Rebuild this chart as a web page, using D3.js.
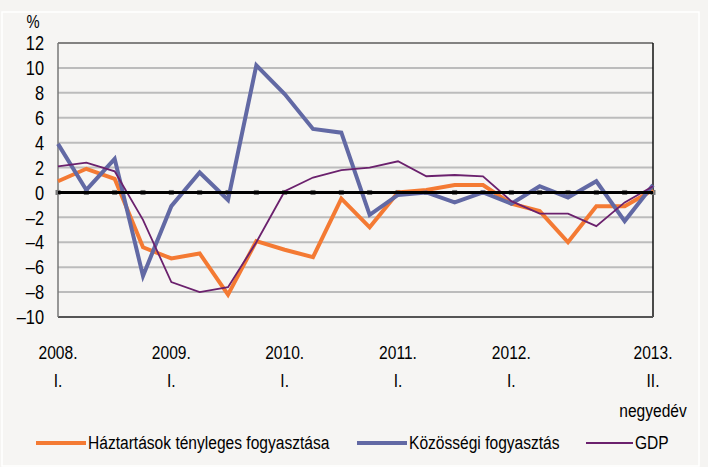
<!DOCTYPE html>
<html>
<head>
<meta charset="utf-8">
<script src="https://cdn.jsdelivr.net/npm/d3@7"></script>
<style>
  body { margin: 0; background: #f5f4f2; }
  svg text { font-family: "Liberation Sans", Arial, sans-serif; fill: #000; }
</style>
</head>
<body>
<div class="chart"></div>
<script>
// quarters 2008 Q1 .. 2013 Q2
const quarters = ["2008Q1","2008Q2","2008Q3","2008Q4","2009Q1","2009Q2","2009Q3","2009Q4",
  "2010Q1","2010Q2","2010Q3","2010Q4","2011Q1","2011Q2","2011Q3","2011Q4",
  "2012Q1","2012Q2","2012Q3","2012Q4","2013Q1","2013Q2"];
const haztartasok = [0.9,1.9,1.1,-4.4,-5.3,-4.9,-8.2,-3.9,-4.6,-5.2,-0.5,-2.8,0.0,0.2,0.6,0.6,-0.9,-1.5,-4.0,-1.1,-1.1,0.2];
const kozossegi = [3.9,0.2,2.7,-6.7,-1.1,1.6,-0.6,10.2,7.9,5.1,4.8,-1.8,-0.2,0.0,-0.8,0.0,-0.9,0.5,-0.4,0.9,-2.3,0.6];
const gdp = [2.1,2.4,1.7,-2.2,-7.2,-8.0,-7.6,-4.0,0.1,1.2,1.8,2.0,2.5,1.3,1.4,1.3,-0.7,-1.7,-1.7,-2.7,-0.8,0.5];
const yTicks = [12,10,8,6,4,2,0,-2,-4,-6,-8,-10];
const xLabels = [
  {q:"2008Q1", year:"2008.", part:"I."},
  {q:"2009Q1", year:"2009.", part:"I."},
  {q:"2010Q1", year:"2010.", part:"I."},
  {q:"2011Q1", year:"2011.", part:"I."},
  {q:"2012Q1", year:"2012.", part:"I."},
  {q:"2013Q2", year:"2013.", part:"II."}
];
const series = [
  {name:"Háztartások tényleges fogyasztása", values:haztartasok, color:"#f47a33", width:4},
  {name:"Közösségi fogyasztás", values:kozossegi, color:"#6269a4", width:4},
  {name:"GDP", values:gdp, color:"#6b216d", width:1.8}
];

const W = 708, H = 467;
const svg = d3.select(".chart").append("svg").attr("width", W).attr("height", H);

// narrow text: Liberation Sans squeezed horizontally like Arial Narrow
function label(parent, px, py, str, anchor, size) {
  return parent.append("text")
    .attr("transform", "translate(" + px + "," + py + ") scale(0.82,1)")
    .attr("text-anchor", anchor).attr("dy", "0.36em")
    .style("font-size", size + "px").text(str);
}

svg.append("rect").attr("x",2).attr("y",12).attr("width",697).attr("height",454)
  .attr("fill","#f6f5f3").attr("stroke","#ffffff").attr("stroke-width",1.5);

const x = d3.scalePoint().domain(quarters).range([58, 653]);
const y = d3.scaleLinear().domain([-10, 12]).range([317, 43]);

// grid
svg.append("g").selectAll("line").data(yTicks.filter(d => d !== 0 && d !== 12 && d !== -10)).enter()
  .append("line")
  .attr("x1",58).attr("x2",653).attr("y1",d=>y(d)).attr("y2",d=>y(d))
  .attr("stroke","#bcbcbc").attr("stroke-width",2);

// frame
svg.append("line").attr("x1",58).attr("x2",653).attr("y1",y(12)).attr("y2",y(12)).attr("stroke","#111").attr("stroke-width",1.2);
svg.append("line").attr("x1",653).attr("x2",653).attr("y1",y(12)).attr("y2",y(-10)).attr("stroke","#111").attr("stroke-width",1.5);
svg.append("line").attr("x1",58).attr("x2",653).attr("y1",y(-10)).attr("y2",y(-10)).attr("stroke","#555").attr("stroke-width",2);
svg.append("line").attr("x1",58).attr("x2",58).attr("y1",y(12)).attr("y2",y(-10)).attr("stroke","#777").attr("stroke-width",1.5);

// y labels
yTicks.forEach(d => label(svg, 44, y(d), d < 0 ? "\u2013" + Math.abs(d) : String(d), "end", 20));
label(svg, 33, 22, "%", "middle", 18);

// tick marks on the zero axis (behind it)
svg.append("g").selectAll("line").data(quarters).enter().append("line")
  .attr("x1",d=>x(d)-2.5).attr("x2",d=>x(d)+2.5).attr("y1",y(0)).attr("y2",y(0))
  .attr("stroke","#777").attr("stroke-width",5);

// lines
const line = d3.line().x((d,i)=>x(quarters[i])).y(d=>y(d));
svg.append("g").selectAll("path").data(series).enter().append("path")
  .attr("d", d=>line(d.values))
  .attr("fill","none").attr("stroke",d=>d.color).attr("stroke-width",d=>d.width)
  .attr("stroke-linejoin","miter");

// zero axis
svg.append("line").attr("x1",58).attr("x2",653).attr("y1",y(0)).attr("y2",y(0)).attr("stroke","#000").attr("stroke-width",3);

// x labels
xLabels.forEach(d => {
  label(svg, x(d.q), 352, d.year, "middle", 19);
  label(svg, x(d.q), 380, d.part, "middle", 19);
});
label(svg, x("2013Q2"), 410, "negyedév", "middle", 19);

// legend
const legendPos = [36, 357, 586];
const legendLen = [50, 50, 47];
series.forEach((d,i) => {
  svg.append("line").attr("x1",legendPos[i]).attr("x2",legendPos[i]+legendLen[i]).attr("y1",443).attr("y2",443)
    .attr("stroke",d.color).attr("stroke-width",d.width);
  label(svg, legendPos[i]+legendLen[i]+2, 442, d.name, "start", 19);
});
</script>
</body>
</html>
